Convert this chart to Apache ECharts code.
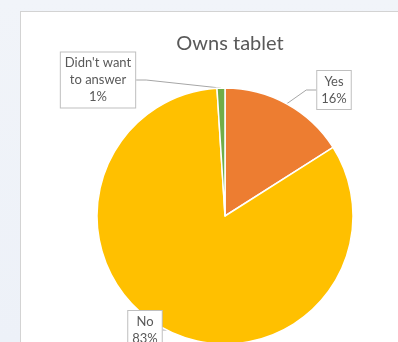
<!DOCTYPE html>
<html>
<head>
<meta charset="utf-8">
<script src="https://cdn.jsdelivr.net/npm/echarts@6/dist/echarts.min.js"></script>
<style>
  html, body { margin: 0; padding: 0; width: 398px; height: 342px; overflow: hidden;
    background: linear-gradient(180deg, #f1f4f9 0%, #edf1f8 100%); }
  #frame { position: absolute; left: 20px; top: 11px; width: 400px; height: 360px;
    background: #ffffff; border: 1px solid #d3d3d3; box-sizing: border-box; }
  #chart { position: absolute; left: 0; top: 0; width: 398px; height: 342px; }
</style>
</head>
<body>
<div id="frame"></div>
<div id="chart"></div>
<script>
// Survey answers: does the respondent own a tablet?
const categories = ['Yes', 'No', "Didn't want to answer"];
const shares = [16, 83, 1];
const labelTexts = ['Yes\n16%', 'No\n83%', "Didn't want\nto answer\n1%"];
const sliceColors = ['#ED7D31', '#FFC000', '#70AD47'];

// where each callout box sits
const calloutPos = {
  'Yes': { x: 334, y: 90 },
  'No': { x: 145, y: 330 },
  "Didn't want to answer": { x: 98, y: 80 }
};

const chart = echarts.init(document.getElementById('chart'), null, { renderer: 'canvas' });

const data = categories.map((name, i) => ({
  name: name,
  value: shares[i],
  itemStyle: { color: sliceColors[i] },
  label: { formatter: labelTexts[i] }
}));

chart.setOption({
  animation: false,
  title: {
    text: 'Owns tablet',
    left: 225,
    top: 29,
    textAlign: 'center',
    textStyle: { fontFamily: 'Lato', fontSize: 20, fontWeight: 'normal', color: '#595959' }
  },
  series: [{
    type: 'pie',
    center: [225, 216],
    radius: 128,
    startAngle: 90,
    clockwise: true,
    data: data,
    itemStyle: { borderColor: '#ffffff', borderWidth: 1.5 },
    label: {
      show: true,
      position: 'outside',
      fontFamily: 'Lato',
      fontSize: 13,
      lineHeight: 17,
      color: '#595959',
      align: 'center',
      backgroundColor: '#ffffff',
      borderColor: '#bfbfbf',
      borderWidth: 1,
      padding: [2, 4]
    },
    labelLine: {
      show: true,
      length: 10,
      length2: 10,
      lineStyle: { color: '#a6a6a6', width: 1 }
    },
    labelLayout: function (params) {
      const p = calloutPos[categories[params.dataIndex]];
      return { x: p.x, y: p.y, align: 'center', verticalAlign: 'middle' };
    }
  }]
});
</script>
</body>
</html>
